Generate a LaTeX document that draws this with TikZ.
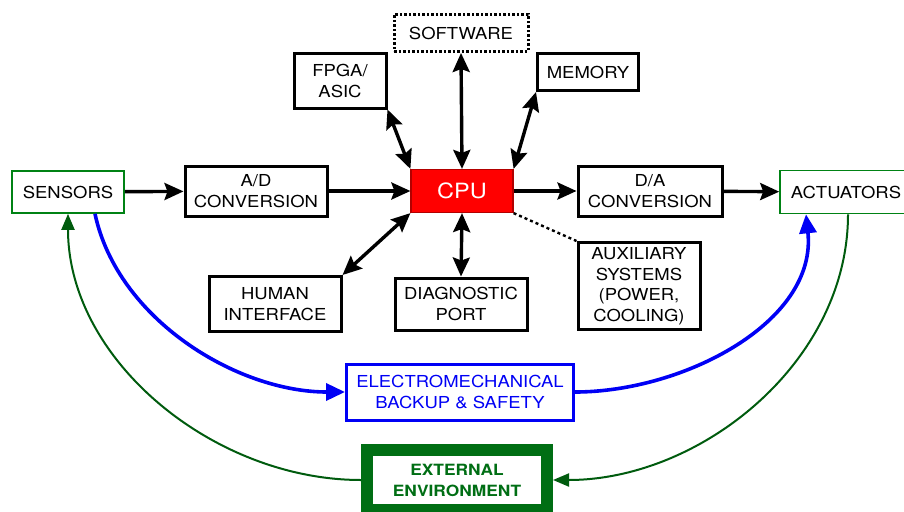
\documentclass[tikz,border=0pt]{standalone}
\usepackage{fontspec}
\setmainfont{TeX Gyre Heros}[FakeStretch=1.12]
\usetikzlibrary{arrows.meta,positioning}
\definecolor{envgreen}{RGB}{0,110,20}
\definecolor{linegreen}{RGB}{0,130,20}
\definecolor{boxblue}{RGB}{0,0,245}

\begin{document}
\begin{tikzpicture}[x=1pt,y=-1pt,
    txt/.style={font=\fontsize{16.5}{20.5}\selectfont, align=center, inner sep=0pt},
    blk/.style={txt, draw, line width=3pt},
    flow/.style={line width=3.4pt, -{Stealth[length=19pt,width=17pt,inset=3pt]}},
    twoway/.style={line width=3.4pt, {Stealth[length=19pt,width=17pt,inset=3pt]}-{Stealth[length=19pt,width=17pt,inset=3pt]}},
    loopback/.style={linegreen!70!black, line width=2pt, -{Triangle[length=16pt,width=13pt]}}]
\clip (0,0) rectangle (904,511);

% Main signal chain
\node[txt, draw=linegreen, line width=1.6pt, minimum width=112pt, minimum height=42pt] (sensors) at (68,192) {SENSORS};
\node[blk, minimum width=142pt, minimum height=50pt] (adconv) at (256,191) {A/D\\CONVERSION};
\node[txt, draw=red!70!black, fill=red, line width=1.2pt, minimum width=102pt, minimum height=43pt,
      text=white, font=\fontsize{21}{24}\selectfont] (cpu) at (462,191) {CPU};
\node[blk, minimum width=144pt, minimum height=50pt] (daconv) at (650,191) {D/A\\CONVERSION};
\node[txt, draw=linegreen, line width=1.6pt, minimum width=132pt, minimum height=43pt] (actuators) at (846,192) {ACTUATORS};

% Blocks round the CPU
\node[txt, draw, dash pattern=on 2.5pt off 2pt, line width=3pt, minimum width=134pt, minimum height=37pt] (software) at (461,33) {SOFTWARE};
\node[blk, minimum width=92pt, minimum height=54pt] (fpga) at (340,81) {FPGA/\\ASIC};
\node[blk, minimum width=101pt, minimum height=37pt] (memory) at (588,72) {MEMORY};
\node[blk, minimum width=132pt, minimum height=55pt] (human) at (275,304) {HUMAN\\INTERFACE};
\node[blk, minimum width=132pt, minimum height=52pt] (diag) at (461,304) {DIAGNOSTIC\\PORT};
\node[blk, minimum width=122pt, minimum height=87pt] (aux) at (639,286) {AUXILIARY\\SYSTEMS\\(POWER,\\COOLING)};

% Backup and environment
\node[txt, draw=boxblue, text=boxblue, line width=3pt, minimum width=227pt, minimum height=56pt] (backup) at (460,392) {ELECTROMECHANICAL\\BACKUP \& SAFETY};
\node[txt, draw=envgreen, text=envgreen, line width=12pt, minimum width=180pt, minimum height=60pt,
      font=\bfseries\fontsize{15.5}{21}\selectfont] (extenv) at (457,480) {EXTERNAL\\ENVIRONMENT};

% Signal flow
\draw[flow] (sensors) -- (adconv);
\draw[flow] (adconv) -- (cpu);
\draw[flow] (cpu) -- (daconv);
\draw[flow] (daconv) -- (actuators);

% Two-way links to the CPU
\foreach \a/\b in {cpu.north/software.south, cpu.north west/fpga.south east,
                   cpu.north east/memory.south west, cpu.south west/human.north east,
                   cpu.south/diag.north} {
    \draw[twoway] (\a) -- (\b);
}
\draw[line width=2.4pt, dashed] (cpu.south east) -- (aux.north west);

% Backup path
\draw[boxblue, line width=3.6pt, -{Triangle[length=19pt,width=17pt]}]
    ([xshift=27pt]sensors.south) to[out=-78, in=180, looseness=0.9] (backup.west);
\draw[boxblue, line width=3.6pt, -{Triangle[length=19pt,width=17pt]}]
    (backup.east) to[out=0, in=-84, looseness=0.95] ([xshift=-40pt]actuators.south);

% Loop through the environment
\draw[loopback] ([xshift=2pt]actuators.south) to[out=-90, in=0, looseness=0.95] (extenv.east);
\draw[loopback] (extenv.west) to[out=180, in=-90, looseness=0.95] (sensors.south);

\end{tikzpicture}
\end{document}
